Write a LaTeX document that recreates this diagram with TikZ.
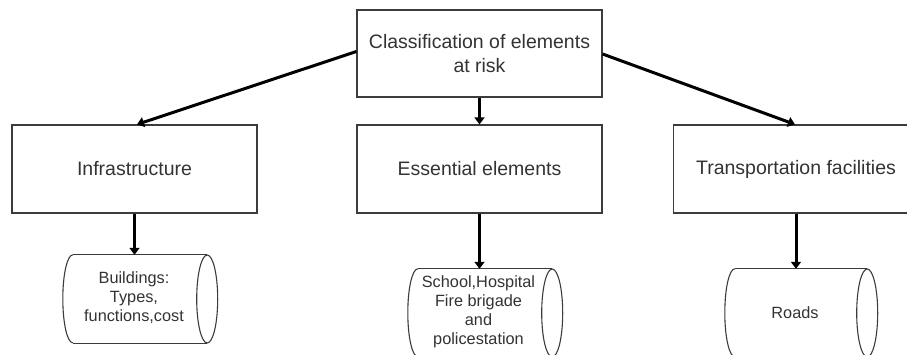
\documentclass[tikz,border=0pt]{standalone}
\usepackage{fontspec}
\setmainfont{Liberation Sans}
\usetikzlibrary{arrows.meta}
\definecolor{edgegray}{HTML}{3C3C3C}
\definecolor{txtgray}{HTML}{333333}
\tikzset{
  boxnode/.style={draw=edgegray, line width=1.2pt, minimum width=245pt, minimum height=88pt,
    inner sep=0pt, text=txtgray, align=center, font=\fontsize{19.5}{24}\selectfont},
  drumarea/.style={draw=none, minimum width=134pt, minimum height=88pt, inner sep=0pt},
  drumtext/.style={text=txtgray, align=center, inner sep=0pt, font=\fontsize{16.3}{19}\selectfont},
  drumline/.style={draw=edgegray, line width=1.1pt},
  bigarrow/.style={draw=black, line width=3pt, -{Triangle[width=10pt,length=7pt]}},
}
\begin{document}
\begin{tikzpicture}[x=1pt,y=-1pt]
\useasboundingbox (0,0) rectangle (907,354);
\clip (0,0) rectangle (907,354);
\fill[white] (0,0) rectangle (907,354);

% boxes
\node[boxnode, minimum height=87pt] (top) at (479.5,53.5) {Classification of elements\\at risk};
\node[boxnode] (infra) at (134.5,169) {Infrastructure};
\node[boxnode] (ess) at (479.5,169) {Essential elements};
\node[boxnode] (trans) at (796,169) {Transportation facilities};

% drum areas
\node[drumarea] (d1) at (140,299) {};
\node[drumarea] (d2) at (485,313) {};
\node[drumarea, minimum width=132pt] (d3) at (801,313) {};

\foreach \d in {d1,d2,d3}{
  \draw[drumline] (\d.north west) -- (\d.north east);
  \draw[drumline] (\d.south west) -- (\d.south east);
  \draw[drumline] (\d.east) ellipse [x radius=10.5, y radius=44];
  \draw[drumline] (\d.north west) arc [start angle=90, end angle=270, x radius=10, y radius=-44];
}

% drum texts
\node[drumtext] (t1) at (134,298) {Buildings:\\Types,\\functions,cost};
\node[drumtext] (t2) at (478.5,311.5) {School,Hospital\\Fire brigade\\and\\policestation};
\node[drumtext] (t3) at (795,313) {Roads};

% arrows
\draw[bigarrow] ([yshift=2]top.west) -- ([xshift=2.5]infra.north);
\draw[bigarrow] (top.south) -- (ess.north);
\draw[bigarrow] ([yshift=-0.5]top.east) -- ([xshift=-1]trans.north);
\draw[bigarrow] (infra.south) -- (infra.south |- d1.north);
\draw[bigarrow] (ess.south) -- (ess.south |- d2.north);
\draw[bigarrow] (trans.south) -- (trans.south |- d3.north);
\end{tikzpicture}
\end{document}
